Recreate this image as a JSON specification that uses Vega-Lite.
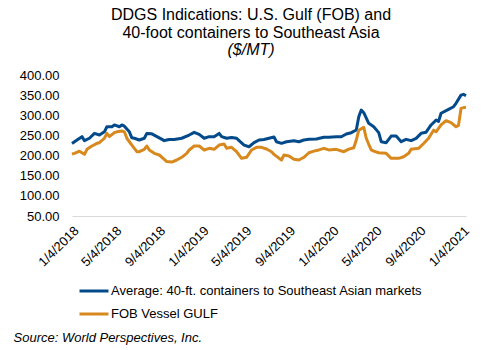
{
  "$schema": "https://vega.github.io/schema/vega-lite/v6.json",
  "width": 394,
  "height": 141,
  "autosize": {"type": "none"},
  "padding": {"left": 72, "top": 75, "right": 19, "bottom": 134},
  "background": "white",
  "config": {"view": {"stroke": null}, "font": "Liberation Sans"},
  "title": {
    "text": ["DDGS Indications: U.S. Gulf (FOB) and", "40-foot containers to Southeast Asia"],
    "subtitle": "($/MT)",
    "font": "Liberation Sans",
    "subtitleFont": "Liberation Sans",
    "fontSize": 16,
    "fontWeight": "normal",
    "lineHeight": 18.5,
    "subtitleFontSize": 16,
    "subtitleFontStyle": "italic",
    "subtitleLineHeight": 18.5,
    "subtitlePadding": 1,
    "color": "#000000",
    "subtitleColor": "#000000",
    "anchor": "middle",
    "dx": -18,
    "offset": 11
  },
  "data": {
    "values": [
      {"date": "2018-01-04", "series": "Average", "price": 230},
      {"date": "2018-01-18", "series": "Average", "price": 238.6},
      {"date": "2018-02-01", "series": "Average", "price": 247},
      {"date": "2018-02-08", "series": "Average", "price": 237},
      {"date": "2018-02-22", "series": "Average", "price": 243},
      {"date": "2018-03-08", "series": "Average", "price": 255},
      {"date": "2018-03-22", "series": "Average", "price": 251},
      {"date": "2018-04-05", "series": "Average", "price": 259},
      {"date": "2018-04-12", "series": "Average", "price": 271.6},
      {"date": "2018-04-26", "series": "Average", "price": 271.6},
      {"date": "2018-05-03", "series": "Average", "price": 276},
      {"date": "2018-05-17", "series": "Average", "price": 271.6},
      {"date": "2018-05-24", "series": "Average", "price": 276},
      {"date": "2018-05-31", "series": "Average", "price": 273},
      {"date": "2018-06-14", "series": "Average", "price": 259},
      {"date": "2018-06-21", "series": "Average", "price": 244},
      {"date": "2018-06-28", "series": "Average", "price": 243},
      {"date": "2018-07-12", "series": "Average", "price": 238.6},
      {"date": "2018-07-26", "series": "Average", "price": 243},
      {"date": "2018-08-02", "series": "Average", "price": 255},
      {"date": "2018-08-16", "series": "Average", "price": 254},
      {"date": "2018-09-06", "series": "Average", "price": 244},
      {"date": "2018-09-20", "series": "Average", "price": 237},
      {"date": "2018-09-27", "series": "Average", "price": 238.6},
      {"date": "2018-10-04", "series": "Average", "price": 240},
      {"date": "2018-10-18", "series": "Average", "price": 240},
      {"date": "2018-11-08", "series": "Average", "price": 243},
      {"date": "2018-11-29", "series": "Average", "price": 251},
      {"date": "2018-12-13", "series": "Average", "price": 257.6},
      {"date": "2018-12-27", "series": "Average", "price": 252.6},
      {"date": "2019-01-10", "series": "Average", "price": 243},
      {"date": "2019-01-24", "series": "Average", "price": 247},
      {"date": "2019-02-07", "series": "Average", "price": 247},
      {"date": "2019-02-21", "series": "Average", "price": 255},
      {"date": "2019-02-28", "series": "Average", "price": 247},
      {"date": "2019-03-14", "series": "Average", "price": 243},
      {"date": "2019-03-28", "series": "Average", "price": 245},
      {"date": "2019-04-11", "series": "Average", "price": 243},
      {"date": "2019-04-18", "series": "Average", "price": 237},
      {"date": "2019-05-02", "series": "Average", "price": 226},
      {"date": "2019-05-16", "series": "Average", "price": 222},
      {"date": "2019-05-30", "series": "Average", "price": 232},
      {"date": "2019-06-13", "series": "Average", "price": 238.6},
      {"date": "2019-06-27", "series": "Average", "price": 240},
      {"date": "2019-07-11", "series": "Average", "price": 243},
      {"date": "2019-07-25", "series": "Average", "price": 246},
      {"date": "2019-08-01", "series": "Average", "price": 234.4},
      {"date": "2019-08-15", "series": "Average", "price": 230.4},
      {"date": "2019-08-29", "series": "Average", "price": 234.4},
      {"date": "2019-09-19", "series": "Average", "price": 237},
      {"date": "2019-10-03", "series": "Average", "price": 234.4},
      {"date": "2019-10-17", "series": "Average", "price": 238.6},
      {"date": "2019-10-31", "series": "Average", "price": 240.3},
      {"date": "2019-11-21", "series": "Average", "price": 241},
      {"date": "2019-12-12", "series": "Average", "price": 245.3},
      {"date": "2019-12-26", "series": "Average", "price": 245.3},
      {"date": "2020-01-16", "series": "Average", "price": 246.8},
      {"date": "2020-01-30", "series": "Average", "price": 246.8},
      {"date": "2020-02-13", "series": "Average", "price": 253.5},
      {"date": "2020-02-27", "series": "Average", "price": 256.8},
      {"date": "2020-03-12", "series": "Average", "price": 263.4},
      {"date": "2020-03-19", "series": "Average", "price": 296.5},
      {"date": "2020-03-26", "series": "Average", "price": 313},
      {"date": "2020-04-02", "series": "Average", "price": 306.4},
      {"date": "2020-04-16", "series": "Average", "price": 280},
      {"date": "2020-04-30", "series": "Average", "price": 271.6},
      {"date": "2020-05-14", "series": "Average", "price": 257},
      {"date": "2020-05-21", "series": "Average", "price": 234.4},
      {"date": "2020-06-04", "series": "Average", "price": 232},
      {"date": "2020-06-18", "series": "Average", "price": 248.5},
      {"date": "2020-07-02", "series": "Average", "price": 248.5},
      {"date": "2020-07-16", "series": "Average", "price": 234.4},
      {"date": "2020-07-30", "series": "Average", "price": 240.3},
      {"date": "2020-08-13", "series": "Average", "price": 237},
      {"date": "2020-08-27", "series": "Average", "price": 242.8},
      {"date": "2020-09-10", "series": "Average", "price": 255.2},
      {"date": "2020-09-24", "series": "Average", "price": 258},
      {"date": "2020-10-08", "series": "Average", "price": 276},
      {"date": "2020-10-22", "series": "Average", "price": 288},
      {"date": "2020-10-29", "series": "Average", "price": 285},
      {"date": "2020-11-05", "series": "Average", "price": 305},
      {"date": "2020-11-26", "series": "Average", "price": 314.8},
      {"date": "2020-12-10", "series": "Average", "price": 321.3},
      {"date": "2020-12-17", "series": "Average", "price": 329.7},
      {"date": "2020-12-31", "series": "Average", "price": 350},
      {"date": "2021-01-07", "series": "Average", "price": 352},
      {"date": "2021-01-14", "series": "Average", "price": 348.6},
      {"date": "2018-01-04", "series": "FOB", "price": 204},
      {"date": "2018-01-11", "series": "FOB", "price": 205.5},
      {"date": "2018-01-25", "series": "FOB", "price": 211},
      {"date": "2018-02-08", "series": "FOB", "price": 203},
      {"date": "2018-02-15", "series": "FOB", "price": 215.5},
      {"date": "2018-03-01", "series": "FOB", "price": 223.7},
      {"date": "2018-03-15", "series": "FOB", "price": 230.4},
      {"date": "2018-03-22", "series": "FOB", "price": 232},
      {"date": "2018-04-05", "series": "FOB", "price": 243},
      {"date": "2018-04-12", "series": "FOB", "price": 255},
      {"date": "2018-04-19", "series": "FOB", "price": 247},
      {"date": "2018-05-03", "series": "FOB", "price": 257},
      {"date": "2018-05-10", "series": "FOB", "price": 259},
      {"date": "2018-05-24", "series": "FOB", "price": 261},
      {"date": "2018-05-31", "series": "FOB", "price": 259},
      {"date": "2018-06-07", "series": "FOB", "price": 243},
      {"date": "2018-06-21", "series": "FOB", "price": 226},
      {"date": "2018-07-05", "series": "FOB", "price": 209.6},
      {"date": "2018-07-12", "series": "FOB", "price": 209.6},
      {"date": "2018-07-26", "series": "FOB", "price": 215.5},
      {"date": "2018-08-02", "series": "FOB", "price": 223.7},
      {"date": "2018-08-09", "series": "FOB", "price": 214},
      {"date": "2018-08-23", "series": "FOB", "price": 205.5},
      {"date": "2018-09-06", "series": "FOB", "price": 201.4},
      {"date": "2018-09-20", "series": "FOB", "price": 190.7},
      {"date": "2018-09-27", "series": "FOB", "price": 185},
      {"date": "2018-10-11", "series": "FOB", "price": 184},
      {"date": "2018-10-25", "series": "FOB", "price": 189},
      {"date": "2018-11-08", "series": "FOB", "price": 195.7},
      {"date": "2018-11-22", "series": "FOB", "price": 205.5},
      {"date": "2018-11-29", "series": "FOB", "price": 213.8},
      {"date": "2018-12-13", "series": "FOB", "price": 223.7},
      {"date": "2018-12-27", "series": "FOB", "price": 223.7},
      {"date": "2019-01-10", "series": "FOB", "price": 213.8},
      {"date": "2019-01-24", "series": "FOB", "price": 218},
      {"date": "2019-02-07", "series": "FOB", "price": 215.5},
      {"date": "2019-02-21", "series": "FOB", "price": 226.2},
      {"date": "2019-03-07", "series": "FOB", "price": 228.7},
      {"date": "2019-03-14", "series": "FOB", "price": 218},
      {"date": "2019-03-28", "series": "FOB", "price": 220.5},
      {"date": "2019-04-11", "series": "FOB", "price": 209.6},
      {"date": "2019-04-25", "series": "FOB", "price": 193.2},
      {"date": "2019-05-09", "series": "FOB", "price": 195.7},
      {"date": "2019-05-23", "series": "FOB", "price": 213.8},
      {"date": "2019-06-06", "series": "FOB", "price": 220.5},
      {"date": "2019-06-20", "series": "FOB", "price": 220.5},
      {"date": "2019-07-04", "series": "FOB", "price": 216.3},
      {"date": "2019-07-18", "series": "FOB", "price": 209.6},
      {"date": "2019-07-25", "series": "FOB", "price": 203},
      {"date": "2019-08-15", "series": "FOB", "price": 189},
      {"date": "2019-08-22", "series": "FOB", "price": 201.4},
      {"date": "2019-09-05", "series": "FOB", "price": 199},
      {"date": "2019-09-19", "series": "FOB", "price": 190.7},
      {"date": "2019-10-03", "series": "FOB", "price": 189},
      {"date": "2019-10-17", "series": "FOB", "price": 195.7},
      {"date": "2019-10-31", "series": "FOB", "price": 207},
      {"date": "2019-11-14", "series": "FOB", "price": 211},
      {"date": "2019-11-28", "series": "FOB", "price": 214},
      {"date": "2019-12-12", "series": "FOB", "price": 218},
      {"date": "2019-12-26", "series": "FOB", "price": 214},
      {"date": "2020-01-16", "series": "FOB", "price": 215.5},
      {"date": "2020-02-06", "series": "FOB", "price": 209.6},
      {"date": "2020-02-20", "series": "FOB", "price": 216},
      {"date": "2020-03-05", "series": "FOB", "price": 219.5},
      {"date": "2020-03-12", "series": "FOB", "price": 238.6},
      {"date": "2020-03-19", "series": "FOB", "price": 263},
      {"date": "2020-04-02", "series": "FOB", "price": 270},
      {"date": "2020-04-09", "series": "FOB", "price": 243},
      {"date": "2020-04-16", "series": "FOB", "price": 228},
      {"date": "2020-04-23", "series": "FOB", "price": 214},
      {"date": "2020-04-30", "series": "FOB", "price": 211},
      {"date": "2020-05-14", "series": "FOB", "price": 207},
      {"date": "2020-06-04", "series": "FOB", "price": 205.5},
      {"date": "2020-06-18", "series": "FOB", "price": 193.2},
      {"date": "2020-07-09", "series": "FOB", "price": 193.2},
      {"date": "2020-07-23", "series": "FOB", "price": 197},
      {"date": "2020-08-06", "series": "FOB", "price": 205.5},
      {"date": "2020-08-13", "series": "FOB", "price": 215.5},
      {"date": "2020-09-03", "series": "FOB", "price": 218},
      {"date": "2020-09-17", "series": "FOB", "price": 230},
      {"date": "2020-10-01", "series": "FOB", "price": 243},
      {"date": "2020-10-15", "series": "FOB", "price": 263},
      {"date": "2020-10-22", "series": "FOB", "price": 259},
      {"date": "2020-11-05", "series": "FOB", "price": 276},
      {"date": "2020-11-19", "series": "FOB", "price": 286.5},
      {"date": "2020-12-03", "series": "FOB", "price": 281.6},
      {"date": "2020-12-17", "series": "FOB", "price": 271.6},
      {"date": "2020-12-24", "series": "FOB", "price": 275},
      {"date": "2020-12-31", "series": "FOB", "price": 317},
      {"date": "2021-01-07", "series": "FOB", "price": 319},
      {"date": "2021-01-14", "series": "FOB", "price": 320}
    ]
  },
  "mark": {"type": "line", "strokeWidth": 3, "strokeJoin": "round", "strokeCap": "butt"},
  "encoding": {
    "x": {
      "field": "date",
      "type": "temporal",
      "scale": {
        "type": "utc",
        "domain": [
          {"year": 2018, "month": 1, "date": 4, "utc": true},
          {"year": 2021, "month": 1, "date": 14, "utc": true}
        ]
      },
      "axis": {
        "values": [
          {"year": 2018, "month": 1, "date": 4, "utc": true},
          {"year": 2018, "month": 5, "date": 4, "utc": true},
          {"year": 2018, "month": 9, "date": 4, "utc": true},
          {"year": 2019, "month": 1, "date": 4, "utc": true},
          {"year": 2019, "month": 5, "date": 4, "utc": true},
          {"year": 2019, "month": 9, "date": 4, "utc": true},
          {"year": 2020, "month": 1, "date": 4, "utc": true},
          {"year": 2020, "month": 5, "date": 4, "utc": true},
          {"year": 2020, "month": 9, "date": 4, "utc": true},
          {"year": 2021, "month": 1, "date": 4, "utc": true}
        ],
        "labelExpr": "utcFormat(datum.value, '%-m/%-d/%Y')",
        "labelAngle": -45,
        "labelFontSize": 13,
        "labelColor": "#000000",
        "labelPadding": 8,
        "labelOverlap": false,
        "labelFlush": false,
        "labelBound": false,
        "ticks": false,
        "tickSize": 0,
        "grid": false,
        "domainColor": "#d9d9d9",
        "domainWidth": 1,
        "title": "Source: World Perspectives, Inc.",
        "titleFontSize": 13,
        "titleFontStyle": "italic",
        "titleFontWeight": "normal",
        "titleColor": "#000000",
        "titleAnchor": "start",
        "titleAlign": "left",
        "titleBaseline": "middle",
        "titleX": -59,
        "titleY": 121
      }
    },
    "y": {
      "field": "price",
      "type": "quantitative",
      "scale": {"domain": [50, 400], "nice": false, "zero": false},
      "axis": {
        "values": [50, 100, 150, 200, 250, 300, 350, 400],
        "format": ".2f",
        "labelFontSize": 13,
        "labelColor": "#000000",
        "labelPadding": 13,
        "ticks": false,
        "tickSize": 0,
        "domain": false,
        "grid": false,
        "title": null
      }
    },
    "color": {
      "field": "series",
      "type": "nominal",
      "scale": {"domain": ["Average", "FOB"], "range": ["#034A8B", "#D8891E"]},
      "legend": {
        "orient": "none",
        "legendX": 6,
        "legendY": 200,
        "direction": "vertical",
        "title": null,
        "padding": 0,
        "symbolType": "stroke",
        "symbolSize": 841,
        "symbolStrokeWidth": 3,
        "labelFontSize": 13,
        "labelColor": "#000000",
        "labelOffset": 1,
        "labelLimit": 0,
        "rowPadding": -9,
        "labelExpr": "datum.label == 'Average' ? 'Average: 40-ft. containers to Southeast Asian markets' : 'FOB Vessel GULF'"
      }
    }
  }
}
